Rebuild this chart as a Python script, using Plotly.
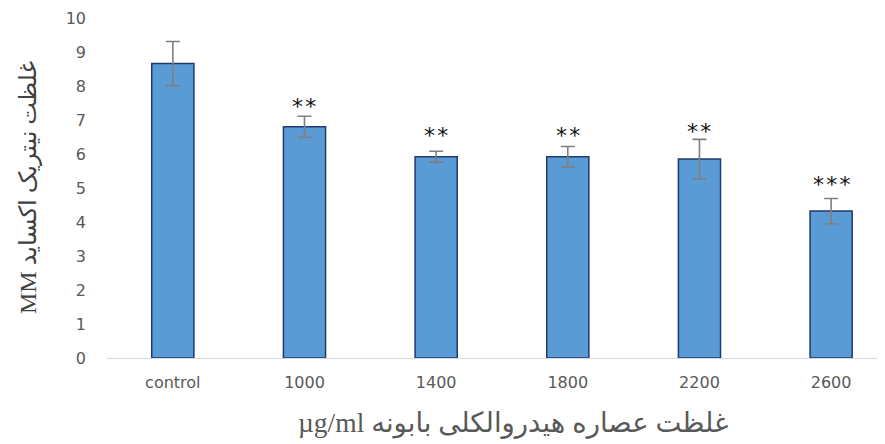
import plotly.graph_objects as go

categories = ["control", "1000", "1400", "1800", "2200", "2600"]
means = [8.66, 6.80, 5.92, 5.92, 5.85, 4.32]
errors = [0.65, 0.31, 0.16, 0.30, 0.58, 0.37]
stars = ["", "**", "**", "**", "**", "***"]
star_y = [None, 7.5, 6.62, 6.62, 6.74, 5.18]
y_ticks = [0, 1, 2, 3, 4, 5, 6, 7, 8, 9, 10]

x_title = "µg/ml غلظت عصاره هیدروالکلی بابونه"
y_title = "MM غلظت نیتریک اکساید"

fig = go.Figure()
fig.add_trace(go.Bar(
    x=categories, y=means, width=0.32,
    marker=dict(color="#5B9BD5", line=dict(color="#1F3A6E", width=1.5)),
    error_y=dict(type="data", array=errors, visible=True,
                 color="#7F7F7F", thickness=1.6, width=7),
    showlegend=False, hoverinfo="skip",
))

for i, (s, yv) in enumerate(zip(stars, star_y)):
    if s:
        fig.add_annotation(x=i, y=yv, xref="x", yref="y", text="\u200a".join(s), showarrow=False,
                           xanchor="center", yanchor="middle", yshift=-3,
                           font=dict(family="DejaVu Sans, Verdana", size=22, color="#111111"))

serif = "Times New Roman, Liberation Serif, DejaVu Serif, DejaVu Sans, serif"
fig.add_annotation(x=0, y=0.5, xref="paper", yref="paper", text=y_title, textangle=-90,
                   showarrow=False, xanchor="center", yanchor="middle", xshift=-79,
                   font=dict(family=serif, size=24, color="#404040"))
fig.add_annotation(x=0.5, y=0, xref="paper", yref="paper", text=x_title,
                   showarrow=False, xanchor="center", yanchor="middle", xshift=13, yshift=-65,
                   font=dict(family=serif, size=27.5, color="#595959"))

fig.update_layout(
    width=885, height=444,
    margin=dict(l=99, r=0, t=10, b=94),
    paper_bgcolor="white", plot_bgcolor="white",
    xaxis=dict(
        type="category", range=[-0.5, 5.47],
        showgrid=False, showline=True, linecolor="#D9D9D9", linewidth=1,
        ticks="", ticklabelstandoff=10,
        tickfont=dict(family="DejaVu Sans, Verdana", size=16, color="#595959"),
    ),
    yaxis=dict(
        range=[0, 10], tickvals=y_ticks, showgrid=False, zeroline=False, showline=False,
        ticks="", ticklabelstandoff=20,
        tickfont=dict(family="DejaVu Sans, Verdana", size=16, color="#595959"),
    ),
)

fig.write_html("out.html")
